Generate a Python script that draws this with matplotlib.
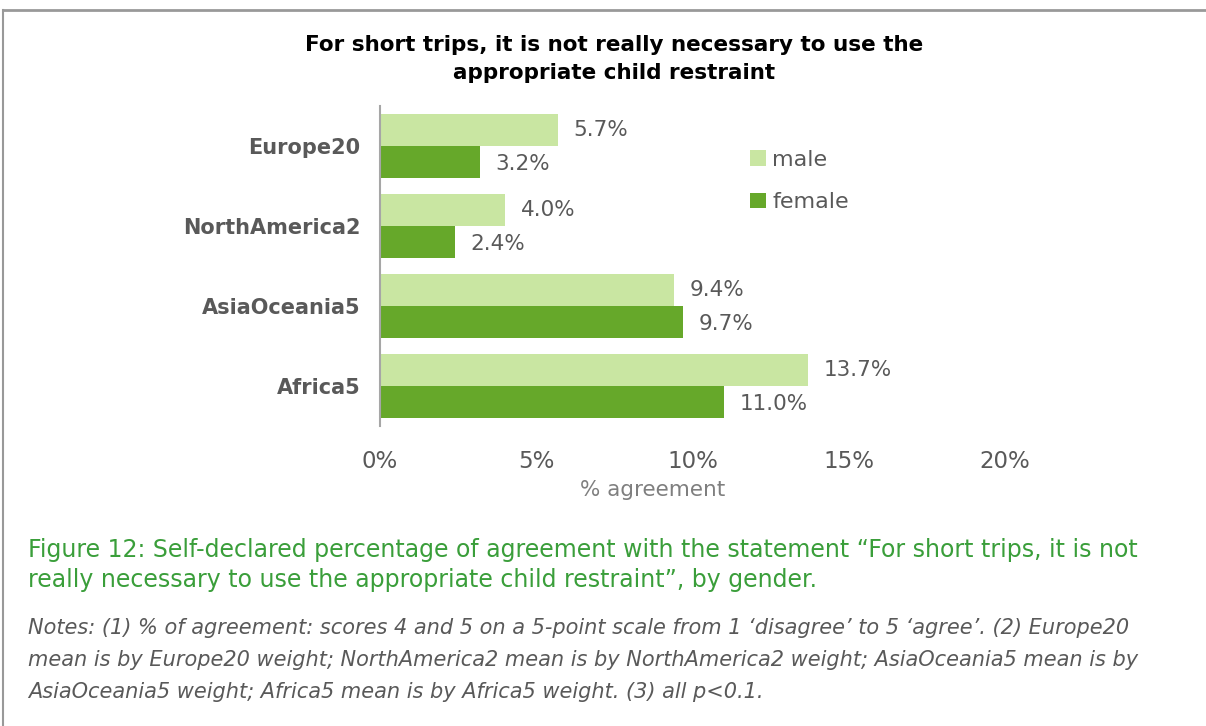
import numpy as np
import matplotlib.pyplot as plt
from matplotlib.lines import Line2D

# data
regions = ["Europe20", "NorthAmerica2", "AsiaOceania5", "Africa5"]
male = [5.7, 4.0, 9.4, 13.7]
female = [3.2, 2.4, 9.7, 11.0]
xticks = [0, 5, 10, 15, 20]

light = "#c9e6a2"
dark = "#66a82a"
grey = "#595959"

fig = plt.figure(figsize=(12.06, 7.26), dpi=100)
ax = fig.add_axes([380/1206, 1 - 426/726, 625/1206, 320/726])

y = np.arange(len(regions))
h = 0.4
ax.barh(y - h/2, male, height=h, color=light, label="male")
ax.barh(y + h/2, female, height=h, color=dark, label="female")

for i in range(len(regions)):
    ax.text(male[i] + 0.5, y[i] - h/2, f"{male[i]:.1f}%", va="center", ha="left",
            fontsize=15.5, color=grey)
    ax.text(female[i] + 0.5, y[i] + h/2 + 0.03, f"{female[i]:.1f}%", va="center", ha="left",
            fontsize=15.5, color=grey)

ax.set_ylim(len(regions) - 0.5, -0.5)
ax.set_xlim(0, 20)
ax.set_yticks(y)
ax.set_yticklabels(regions, fontsize=15, fontweight="bold", color=grey)
ax.set_xticks(xticks)
ax.set_xticklabels([f"{t}%" for t in xticks], fontsize=16.5, color=grey)
ax.tick_params(axis="both", length=0)
ax.tick_params(axis="x", pad=17)
ax.tick_params(axis="y", pad=14)
ax.set_xlabel("% agreement", fontsize=15.5, color="#7f7f7f")
ax.xaxis.set_label_coords(0.437, -0.17)
for s in ["top", "right", "bottom"]:
    ax.spines[s].set_visible(False)
ax.spines["left"].set_color("#a6a6a6")
ax.spines["left"].set_linewidth(1.5)

ax.legend(loc="upper left", bbox_to_anchor=(0.56, 0.925), frameon=False, fontsize=16,
          handlelength=0.7, handleheight=0.7, handletextpad=0.3, labelspacing=1.0,
          labelcolor=grey)

fig.text(614/1206, 1 - 59/726, "For short trips, it is not really necessary to use the\n"
         "appropriate child restraint", ha="center", va="center", fontsize=15.5,
         fontweight="bold", color="black", linespacing=1.45)

fig.text(28/1206, 1 - 565/726,
         "Figure 12: Self-declared percentage of agreement with the statement \u201cFor short trips, it is not\n"
         "really necessary to use the appropriate child restraint\u201d, by gender.",
         ha="left", va="center", fontsize=17, color="#3a9e3a", linespacing=1.3)

fig.text(28/1206, 1 - 660/726,
         "Notes: (1) % of agreement: scores 4 and 5 on a 5-point scale from 1 \u2018disagree\u2019 to 5 \u2018agree\u2019. (2) Europe20\n"
         "mean is by Europe20 weight; NorthAmerica2 mean is by NorthAmerica2 weight; AsiaOceania5 mean is by\n"
         "AsiaOceania5 weight; Africa5 mean is by Africa5 weight. (3) all p<0.1.",
         ha="left", va="center", fontsize=15, style="italic", color=grey, linespacing=1.72)

# border
fig.add_artist(Line2D([3/1206, 1], [1 - 9.5/726] * 2, color="#999999", lw=2))
fig.add_artist(Line2D([3.5/1206] * 2, [0, 1 - 9.5/726], color="#999999", lw=1.5))

fig.savefig("out.png", dpi=100)
